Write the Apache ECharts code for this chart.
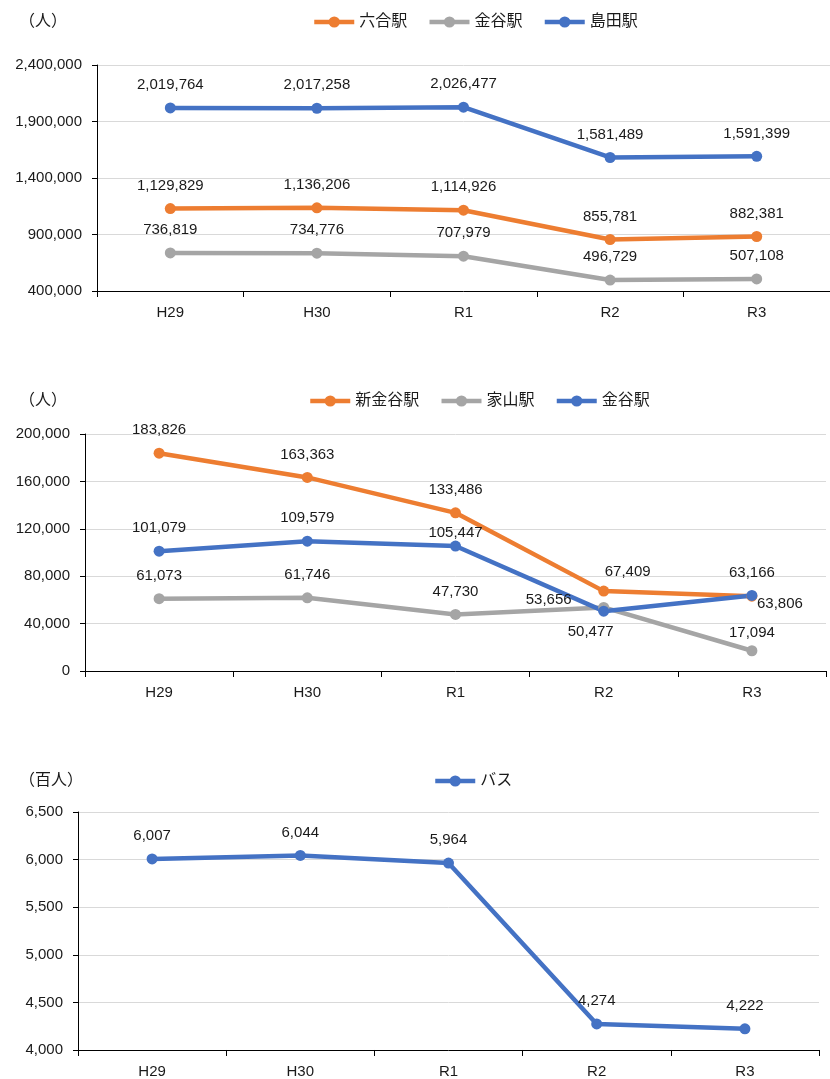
<!DOCTYPE html>
<html>
<head>
<meta charset="utf-8">
<script src="https://cdn.jsdelivr.net/npm/echarts@6/dist/echarts.min.js"></script>
<style>
html, body { margin: 0; padding: 0; background: #fff; }
#main { width: 830px; height: 1079px; }
</style>
</head>
<body>
<div id="main"></div>
<script>
// 年度
var years = ["H29", "H30", "R1", "R2", "R3"];

// 上段：JR駅
var rokugou = [1129829, 1136206, 1114926, 855781, 882381];
var kanayaJR = [736819, 734776, 707979, 496729, 507108];
var shimada = [2019764, 2017258, 2026477, 1581489, 1591399];

// 中段：大井川鐵道
var shinKanaya = [183826, 163363, 133486, 67409, 63166];
var ieyama = [61073, 61746, 47730, 53656, 17094];
var kanayaOigawa = [101079, 109579, 105447, 50477, 63806];

// 下段：バス（百人）
var bus = [6007, 6044, 5964, 4274, 4222];

var ORANGE = "#ED7D31", GRAY = "#A5A5A5", BLUE = "#4472C4";
var FONT = "Liberation Sans, Noto Sans CJK JP, sans-serif";
var TXT = "#1a1a1a";

function fmt(v) {
  return String(v).replace(/\B(?=(\d{3})+(?!\d))/g, ",");
}

// ラベル位置の個別調整（点の中心からのずれ）
function mkData(values, offsets) {
  return values.map(function (v, i) {
    var off = (offsets && offsets[i]) || [0, -23];
    return { value: v, label: { offset: off } };
  });
}

function mkSeries(name, values, color, idx, offsets) {
  return {
    name: name,
    type: "line",
    xAxisIndex: idx,
    yAxisIndex: idx,
    data: mkData(values, offsets),
    symbol: "circle",
    symbolSize: 11,
    color: color,
    lineStyle: { width: 4.5, color: color },
    itemStyle: { color: color },
    label: {
      show: true,
      position: "inside",
      color: TXT,
      fontSize: 15,
      fontFamily: FONT,
      formatter: function (p) { return fmt(p.value); }
    },
    emphasis: { disabled: true },
    animation: false
  };
}

function mkX(idx) {
  return {
    type: "category",
    gridIndex: idx,
    data: years,
    axisLine: { lineStyle: { color: "#000", width: 1 } },
    axisTick: { show: true, length: 6, lineStyle: { color: "#000" } },
    axisLabel: { color: TXT, fontSize: 15, fontFamily: FONT, margin: 14 }
  };
}

function mkY(idx, min, max, interval) {
  return {
    type: "value",
    gridIndex: idx,
    min: min,
    max: max,
    interval: interval,
    axisLine: { show: true, lineStyle: { color: "#000", width: 1 } },
    axisTick: { show: true, length: 5, lineStyle: { color: "#000" } },
    axisLabel: { color: TXT, fontSize: 15, fontFamily: FONT, margin: 15,
      formatter: function (v) { return fmt(v); } },
    splitLine: { show: true, lineStyle: { color: "#d9d9d9", width: 1 } }
  };
}

// 凡例（同名の「金谷駅」があるため色を明示）
function mkLegend(names, colors, left, top) {
  return {
    data: names.map(function (n, i) {
      return { name: n, itemStyle: { color: colors[i] }, lineStyle: { color: colors[i], width: 4.5 } };
    }),
    left: left,
    top: top,
    itemWidth: 40,
    itemHeight: 14,
    itemGap: 20,
    textStyle: { color: TXT, fontSize: 16, fontFamily: FONT },
    selectedMode: false
  };
}

var myChart = echarts.init(document.getElementById("main"));
myChart.setOption({
  animation: false,
  title: [
    { text: "（人）", left: 14, top: 9, textStyle: { fontSize: 16, fontWeight: "normal", color: TXT, fontFamily: FONT } },
    { text: "（人）", left: 14, top: 388, textStyle: { fontSize: 16, fontWeight: "normal", color: TXT, fontFamily: FONT } },
    { text: "（百人）", left: 14, top: 768, textStyle: { fontSize: 16, fontWeight: "normal", color: TXT, fontFamily: FONT } }
  ],
  legend: [
    mkLegend(["六合駅", "金谷駅", "島田駅"], [ORANGE, GRAY, BLUE], 307, 9),
    mkLegend(["新金谷駅", "家山駅", "金谷駅"], [ORANGE, GRAY, BLUE], 303, 388),
    mkLegend(["バス"], [BLUE], 428, 768)
  ],
  grid: [
    { left: 97, top: 65, width: 741, height: 226 },
    { left: 85, top: 434, width: 741, height: 237 },
    { left: 78, top: 812, width: 741, height: 238 }
  ],
  xAxis: [mkX(0), mkX(1), mkX(2)],
  yAxis: [
    mkY(0, 400000, 2400000, 500000),
    mkY(1, 0, 200000, 40000),
    mkY(2, 4000, 6500, 500)
  ],
  series: [
    mkSeries("六合駅", rokugou, ORANGE, 0),
    mkSeries("金谷駅", kanayaJR, GRAY, 0),
    mkSeries("島田駅", shimada, BLUE, 0),
    mkSeries("新金谷駅", shinKanaya, ORANGE, 1, [null, null, null, [24, -19], null]),
    mkSeries("家山駅", ieyama, GRAY, 1, [null, null, null, [-55, -8], [0, -18]]),
    mkSeries("金谷駅", kanayaOigawa, BLUE, 1, [null, null, [0, -13], [-13, 21], [28, 8]]),
    mkSeries("バス", bus, BLUE, 2)
  ]
}, true);
</script>
</body>
</html>
